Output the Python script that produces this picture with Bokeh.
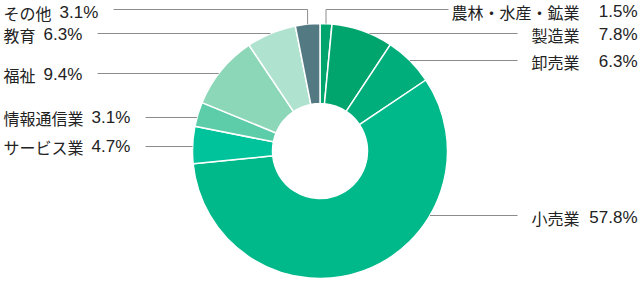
import math
from bokeh.plotting import figure
from bokeh.models import Range1d, ColumnDataSource
from bokeh.core.properties import value
from bokeh.embed import file_html
from bokeh.resources import INLINE

# ---- data ----
categories = ["農林・水産・鉱業", "製造業", "卸売業", "小売業", "サービス業",
              "情報通信業", "福祉", "教育", "その他"]
shares = [1.5, 7.8, 6.3, 57.8, 4.7, 3.1, 9.4, 6.3, 3.1]
colors = ["#00a56e", "#00a56e", "#00ae7c", "#00b98b", "#00c39b",
          "#5dcca9", "#8dd7b9", "#b0e2d0", "#537983"]

# ---- layout ----
W, H = 640, 281
CX, CY = 319.5, 150.5          # centre (pixel coords, y down)
R_OUT, R_IN = 127.5, 47.5
FONT = value("Noto Sans CJK JP")
NUM_FONT = value("Liberation Sans")
FS_PX = 16
FS = f"{FS_PX}px"
NUM_FS = "17px"
LINE_C = "#8c8c8c"
TEXT_C = "#222222"

# label placement: side, label y (px), line y (px), line start (left) / end (right)
side = ["R", "R", "R", "R", "L", "L", "L", "L", "L"]
label_y = [11, 34, 61, 217, 146, 117, 74, 34, 12]
line_y = [9, 33, 60, 215, 146, 117, 73, 33, 9]
line_x = [448, 517, 517, 517, 145, 145, 97, 97, 113]
top_drop = [True, False, False, False, False, False, False, False, True]

def Y(y):
    return H - y

p = figure(width=W, height=H, x_range=Range1d(0, W), y_range=Range1d(0, H),
           output_backend="svg", toolbar_location=None, min_border=0)
p.axis.visible = False
p.grid.visible = False
p.outline_line_color = None
p.background_fill_color = "white"

total = sum(shares)
starts, ends, mids = [], [], []
acc = 0.0
for s in shares:
    a0 = acc / total
    acc += s
    a1 = acc / total
    starts.append(math.pi / 2 - a0 * 2 * math.pi)
    ends.append(math.pi / 2 - a1 * 2 * math.pi)
    mids.append((a0 + a1) / 2)

src = ColumnDataSource(dict(x=[CX] * len(shares), y=[Y(CY)] * len(shares),
                            start=starts, end=ends, color=colors))
p.annular_wedge(x="x", y="y", inner_radius=R_IN, outer_radius=R_OUT,
                start_angle="start", end_angle="end", direction="clock",
                fill_color="color", line_color="white", line_width=1.5, source=src)

# leader lines
for i, cat in enumerate(categories):
    ly = line_y[i]
    if top_drop[i]:
        ang = mids[i] * 2 * math.pi
        px = CX + R_OUT * math.sin(ang)
        py = CY - R_OUT * math.cos(ang)
        xs = [line_x[i], px, px]
        ys = [Y(ly), Y(ly), Y(py)]
    else:
        dy = abs(ly - CY)
        dx = math.sqrt(max(R_OUT ** 2 - dy ** 2, 0))
        px = CX + dx if side[i] == "R" else CX - dx
        xs = [line_x[i], px]
        ys = [Y(ly), Y(ly)]
    p.line(xs, ys, line_color=LINE_C, line_width=1)

# labels
for i, cat in enumerate(categories):
    pct = f"{shares[i]:.1f}%"
    ty = Y(label_y[i])
    if side[i] == "R":
        p.text(x=[579], y=[ty], text=[cat], text_align="right",
               text_baseline="middle", text_font=FONT, text_font_size=FS,
               text_color=TEXT_C)
        p.text(x=[637], y=[ty], text=[pct], text_align="right",
               text_baseline="middle", text_font=NUM_FONT, text_font_size=NUM_FS,
               text_color=TEXT_C)
    else:
        p.text(x=[3], y=[ty], text=[cat], text_align="left",
               text_baseline="middle", text_font=FONT, text_font_size=FS,
               text_color=TEXT_C)
        px0 = 3 + len(cat) * FS_PX + 8
        p.text(x=[px0], y=[ty], text=[pct], text_align="left",
               text_baseline="middle", text_font=NUM_FONT, text_font_size=NUM_FS,
               text_color=TEXT_C)

open("out.html", "w").write(file_html(p, INLINE))
